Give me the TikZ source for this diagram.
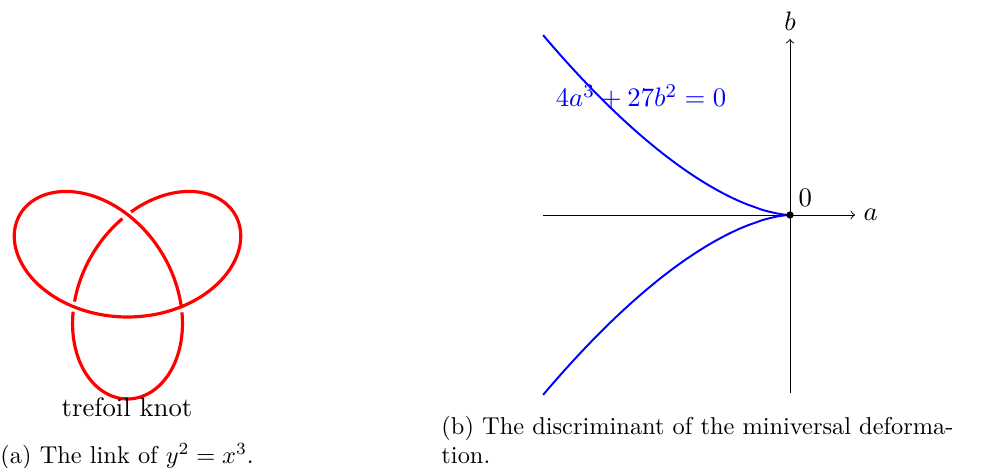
\documentclass[tikz,border=0pt]{standalone}
\usepackage{amsmath,amssymb}
\usepackage{tikz}
\usetikzlibrary{positioning}
\tikzset{
  knot/.style={draw=red,line width=1.3pt},
  axisarr/.style={->,line width=0.4pt},
  disc/.style={draw=blue,thick},
  lbl/.style={font=\fontsize{10.95}{13.6}\selectfont},
  capt/.style={font=\fontsize{10}{12}\selectfont,inner sep=0pt,align=left}
}

\begin{document}
\begin{tikzpicture}[x=0.41pt,y=-0.41pt]
    \useasboundingbox (0,0) rectangle (981,468);
    \draw[knot] plot[domain=137:222.8,samples=60,smooth,variable=\t]
      ({127.5+41.4*(sin(\t)+2*sin(2*\t))},{276-41*(cos(\t)-2*cos(2*\t))});
    \draw[knot] plot[domain=224:463.2,samples=150,smooth,variable=\t]
      ({127.5+41.4*(sin(\t)+2*sin(2*\t))},{276-41*(cos(\t)-2*cos(2*\t))});
    \draw[knot] plot[domain=106.4:134,samples=25,smooth,variable=\t]
      ({127.5+41.4*(sin(\t)+2*sin(2*\t))},{276-41*(cos(\t)-2*cos(2*\t))});
    \node[lbl,anchor=base] (knotname) at (127,417) {trefoil knot};
    \node[capt,anchor=base west] (capa) at (0,463.3) {(a) The link of $y^2=x^3$.};
    \coordinate (O) at (790,215);
    \coordinate (aneg) at (543,215);
    \coordinate (apos) at (855,215);
    \coordinate (bneg) at (790,393);
    \coordinate (bpos) at (790,39);
    \draw[axisarr] (aneg) -- (apos);
    \draw[axisarr] (bneg) -- (bpos);
    \node[lbl,right] (alabel) at (apos) {$a$};
    \node[lbl,above] (blabel) at (bpos) {$b$};
    \draw[disc] (O) -- plot[domain=0.002:1,samples=60,smooth]
      ({790-247*\x},{215-180*pow(\x,1.62)});
    \draw[disc] (O) -- plot[domain=0.002:1,samples=60,smooth]
      ({790-247*\x},{215+180*pow(\x,1.62)});
    \fill (O) circle (1.5pt);
    \node[lbl,above right] (zero) at (O) {$0$};
    \node[lbl,blue,anchor=base] (disclabel) at (641,107) {$4a^3+27b^2=0$};
    \node[capt,anchor=base west] (capb) at (441,463.3)
      {(b) The discriminant of the miniversal deforma-\\tion.};
\end{tikzpicture}
\end{document}
